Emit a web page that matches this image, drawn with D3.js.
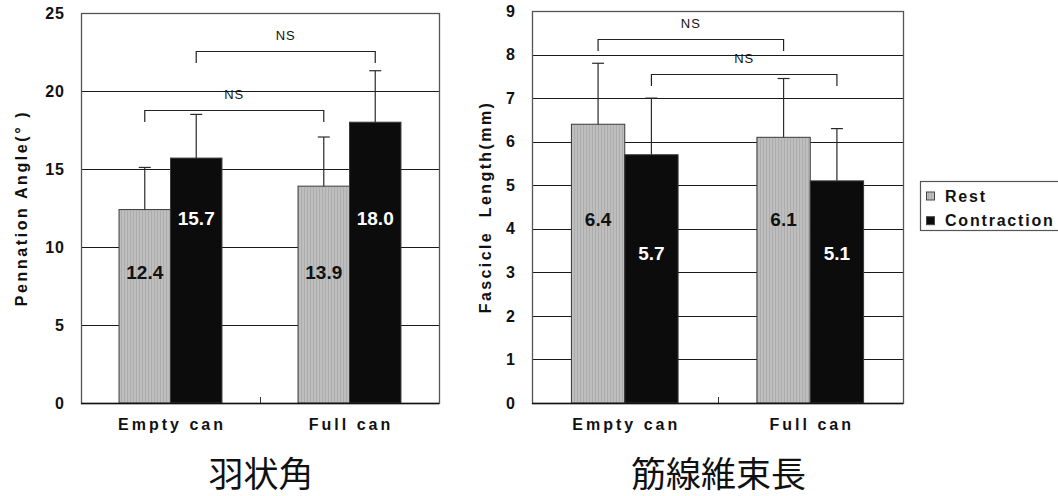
<!DOCTYPE html>
<html>
<head>
<meta charset="utf-8">
<script src="https://cdn.jsdelivr.net/npm/d3@7/dist/d3.min.js"></script>
<style>
  html, body { margin: 0; padding: 0; background: #fff; }
  svg { display: block; }
  text { font-family: "Liberation Sans", Arial, sans-serif; fill: #111; }
  .cjk { font-family: "Noto Sans CJK JP", "Noto Sans CJK SC", sans-serif; }
</style>
</head>
<body>
<svg id="fig" width="1058" height="496"></svg>
<script>
// ---- data ----
const categories = ["Empty can", "Full can"];
const seriesNames = ["Rest", "Contraction"];

// Pennation angle (deg): means and SD per category
const angleRest = [12.4, 13.9];
const angleContraction = [15.7, 18.0];
const angleRestSD = [2.7, 3.15];
const angleContractionSD = [2.8, 3.3];
const angleTicks = [0, 5, 10, 15, 20, 25];

// Fascicle length (mm): means and SD per category
const lengthRest = [6.4, 6.1];
const lengthContraction = [5.7, 5.1];
const lengthRestSD = [1.4, 1.35];
const lengthContractionSD = [1.3, 1.2];
const lengthTicks = [0, 1, 2, 3, 4, 5, 6, 7, 8, 9];

// Significance brackets: [category, series] to [category, series], at a value
const angleBrackets = [
  { from: [0, 0], to: [1, 0], at: 18.8, label: "NS" },
  { from: [0, 1], to: [1, 1], at: 22.55, label: "NS" }
];
const lengthBrackets = [
  { from: [0, 0], to: [1, 0], at: 8.35, label: "NS" },
  { from: [0, 1], to: [1, 1], at: 7.55, label: "NS" }
];

const angleYTitle = "Pennation Angle(\u00b0 )";
const lengthYTitle = "Fascicle  Length(mm)";
const angleTitle = "羽状角";
const lengthTitle = "筋線維束長";

// ---- drawing ----
const svg = d3.select("#fig");

// fine vertical hatch for the light bars
const defs = svg.append("defs");
const pat = defs.append("pattern")
  .attr("id", "restHatch").attr("patternUnits", "userSpaceOnUse")
  .attr("width", 3).attr("height", 4);
pat.append("rect").attr("width", 3).attr("height", 4).attr("fill", "#bebebe");
pat.append("rect").attr("x", 1).attr("width", 1).attr("height", 4).attr("fill", "#adadad");

const fills = ["url(#restHatch)", "#0c0c0c"];
const labelColors = ["#111", "#fff"];

function drawChart(cfg) {
  const g = svg.append("g");
  const x = d3.scaleBand().domain(categories)
    .range([cfg.left, cfg.right]).paddingInner(0.425).paddingOuter(0.2125);
  const xs = d3.scaleBand().domain(seriesNames).range([0, x.bandwidth()]);
  const y = d3.scaleLinear().domain(cfg.domain).range([cfg.bottom, cfg.top]);

  const rows = [];
  categories.forEach((c, i) => {
    cfg.means.forEach((arr, s) => {
      rows.push({ cat: c, ci: i, s, name: seriesNames[s], v: arr[i], sd: cfg.sds[s][i] });
    });
  });
  const cx = (ci, s) => x(categories[ci]) + xs(seriesNames[s]) + xs.bandwidth() / 2;

  // gridlines
  g.append("g").selectAll("line").data(cfg.ticks).join("line")
    .attr("x1", cfg.left).attr("x2", cfg.right)
    .attr("y1", d => Math.round(y(d)) + 0.5).attr("y2", d => Math.round(y(d)) + 0.5)
    .attr("stroke", "#1a1a1a").attr("stroke-width", 1);

  // plot frame
  g.append("rect")
    .attr("x", cfg.left + 0.5).attr("y", Math.round(y(cfg.domain[1])) + 0.5)
    .attr("width", cfg.right - cfg.left).attr("height", Math.round(y(0)) - Math.round(y(cfg.domain[1])))
    .attr("fill", "none").attr("stroke", "#555").attr("stroke-width", 1.3);

  // y axis labels
  const yAxis = d3.axisLeft(y).tickValues(cfg.ticks).tickSize(0).tickPadding(16).tickFormat(d3.format("d"));
  const ya = g.append("g").attr("transform", `translate(${cfg.left},0)`).call(yAxis);
  ya.select(".domain").remove();
  ya.selectAll("text").style("font-size", "16px").style("font-weight", "bold")
    .style("letter-spacing", "1px").attr("fill", "#111");

  // bars
  g.append("g").selectAll("rect").data(rows).join("rect")
    .attr("x", d => x(d.cat) + xs(d.name))
    .attr("y", d => y(d.v))
    .attr("width", xs.bandwidth())
    .attr("height", d => y(0) - y(d.v))
    .attr("fill", d => fills[d.s])
    .attr("stroke", "#3a3a3a").attr("stroke-width", 1);

  // upper error bars
  const eb = g.append("g").attr("stroke", "#2a2a2a").attr("stroke-width", 1.2);
  eb.selectAll("line.v").data(rows).join("line").attr("class", "v")
    .attr("x1", d => cx(d.ci, d.s)).attr("x2", d => cx(d.ci, d.s))
    .attr("y1", d => y(d.v)).attr("y2", d => y(d.v + d.sd));
  eb.selectAll("line.c").data(rows).join("line").attr("class", "c")
    .attr("x1", d => cx(d.ci, d.s) - 6).attr("x2", d => cx(d.ci, d.s) + 6)
    .attr("y1", d => y(d.v + d.sd)).attr("y2", d => y(d.v + d.sd));

  // x axis: baseline, separator tick, labels
  const xAxis = d3.axisBottom(x).tickSize(0).tickPadding(16);
  const xa = g.append("g").attr("transform", `translate(0,${Math.round(y(0))})`).call(xAxis);
  xa.select(".domain").remove();
  xa.selectAll("text").style("font-size", "16px").style("font-weight", "bold")
    .style("letter-spacing", "3px").attr("dx", "1.5px").attr("fill", "#111");
  g.append("line")
    .attr("x1", Math.round(cfg.left + x.step()) + 0.5).attr("x2", Math.round(cfg.left + x.step()) + 0.5)
    .attr("y1", y(0)).attr("y2", y(0) - 6)
    .attr("stroke", "#333").attr("stroke-width", 1);
  g.append("line")
    .attr("x1", cfg.left).attr("x2", cfg.right)
    .attr("y1", Math.round(y(0)) + 0.5).attr("y2", Math.round(y(0)) + 0.5)
    .attr("stroke", "#111").attr("stroke-width", 1.3);

  // value labels inside bars
  g.append("g").selectAll("text").data(rows).join("text")
    .attr("x", d => cx(d.ci, d.s))
    .attr("y", d => y(cfg.labelAt[d.s]))
    .attr("text-anchor", "middle").attr("dominant-baseline", "central")
    .style("font-size", "19px").style("font-weight", "bold")
    .attr("fill", d => labelColors[d.s]).style("fill", d => labelColors[d.s])
    .text(d => d.v.toFixed(1));

  // significance brackets
  const drop = 11.5;
  const br = g.append("g");
  cfg.brackets.forEach(b => {
    const xa1 = cx(b.from[0], b.from[1]);
    const xb1 = cx(b.to[0], b.to[1]);
    const yy = Math.round(y(b.at)) + 0.5;
    br.append("path")
      .attr("d", `M${xa1},${yy + drop}V${yy}H${xb1}V${yy + drop}`)
      .attr("fill", "none").attr("stroke", "#222").attr("stroke-width", 1.2);
    br.append("text")
      .attr("x", (xa1 + xb1) / 2).attr("y", yy - 16.5)
      .attr("text-anchor", "middle").attr("dominant-baseline", "central")
      .style("font-size", "13px").style("letter-spacing", "1px")
      .text(b.label);
  });

  // y axis title
  g.append("text")
    .attr("transform", `translate(${cfg.titleX},${(cfg.top + cfg.bottom) / 2}) rotate(-90)`)
    .attr("text-anchor", "middle").attr("dominant-baseline", "central")
    .style("font-size", "16px").style("font-weight", "bold")
    .style("letter-spacing", cfg.titleSpacing).style("white-space", "pre")
    .text(cfg.yTitle);

  // chart caption
  g.append("text").attr("class", "cjk")
    .attr("x", (cfg.left + cfg.right) / 2 + 1).attr("y", 487)
    .attr("text-anchor", "middle")
    .style("font-size", "35px")
    .text(cfg.caption);
}

drawChart({
  left: 81, right: 439, top: 13, bottom: 403,
  domain: [0, 25], ticks: angleTicks,
  means: [angleRest, angleContraction], sds: [angleRestSD, angleContractionSD],
  brackets: angleBrackets, labelAt: [8.37, 11.8],
  yTitle: angleYTitle, titleX: 21, titleSpacing: "2.6px", caption: angleTitle
});

drawChart({
  left: 532, right: 903, top: 11, bottom: 403,
  domain: [0, 9], ticks: lengthTicks,
  means: [lengthRest, lengthContraction], sds: [lengthRestSD, lengthContractionSD],
  brackets: lengthBrackets, labelAt: [4.22, 3.44],
  yTitle: lengthYTitle, titleX: 485, titleSpacing: "2.4px", caption: lengthTitle
});

// legend
const lg = svg.append("g");
lg.append("rect").attr("x", 920.5).attr("y", 181.5).attr("width", 142).attr("height", 49)
  .attr("fill", "#fff").attr("stroke", "#555").attr("stroke-width", 1.2);
seriesNames.forEach((name, i) => {
  const yy = 196 + i * 24.7;
  lg.append("rect").attr("x", 926.5).attr("y", yy - 4).attr("width", 8).attr("height", 8)
    .attr("fill", fills[i]).attr("stroke", "#444").attr("stroke-width", 1);
  lg.append("text").attr("x", 945).attr("y", yy).attr("dominant-baseline", "central")
    .style("font-size", "16px").style("font-weight", "bold").style("letter-spacing", "1.8px")
    .text(name);
});
</script>
</body>
</html>
